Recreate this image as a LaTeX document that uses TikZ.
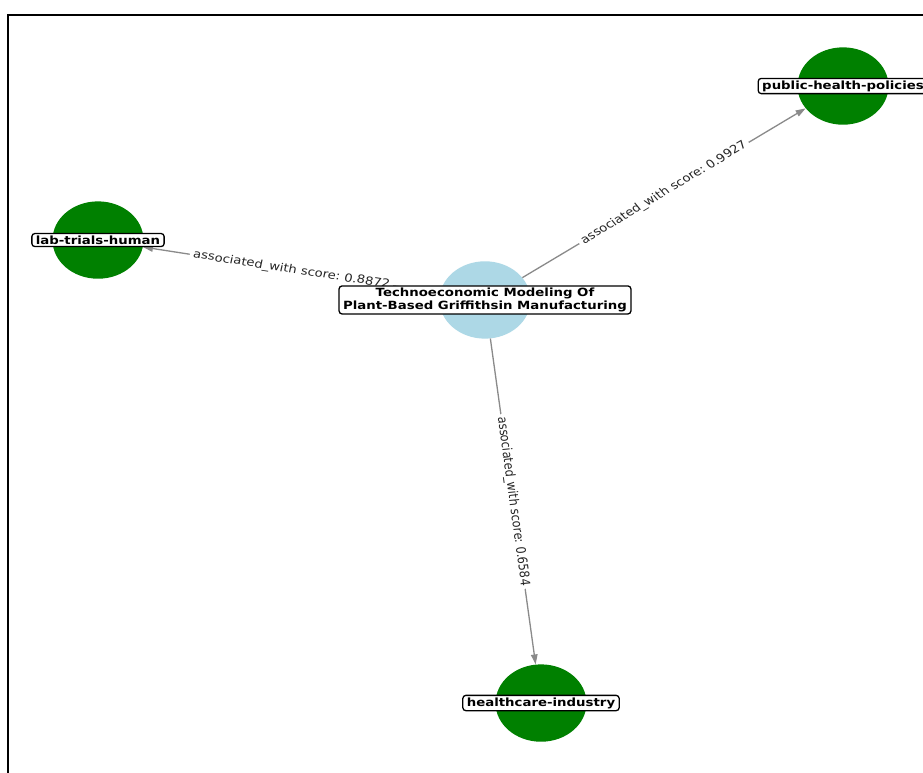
\documentclass[tikz,border=0pt]{standalone}
\usepackage{fontspec}
\setmainfont{DejaVu Sans}
\usetikzlibrary{shapes.geometric,arrows.meta,calc}
\definecolor{topicblue}{RGB}{173,216,230}
\definecolor{leafgreen}{RGB}{0,128,0}
\definecolor{edgegray}{RGB}{138,138,138}
\frenchspacing
\begin{document}
\begin{tikzpicture}[x=1pt,y=-1pt,
  hub/.style={circle, fill=topicblue, minimum size=91pt, inner sep=0pt},
  leaf/.style={circle, fill=leafgreen, minimum size=91pt, inner sep=0pt},
  tag/.style={draw=black, line width=1.3pt, fill=white, rounded corners=3pt,
    inner xsep=4pt, inner ysep=2.5pt, align=center,
    font=\bfseries\fontsize{13.3}{15}\selectfont},
  link/.style={draw=edgegray, line width=1.3pt, -{Triangle[length=10pt,width=6.5pt]}},
  score/.style={fill=white, inner sep=3.5pt, text=black!85,
    font=\fontsize{13.2}{15}\selectfont},
]
\useasboundingbox (0,0) rectangle (923,773);
\clip (0,0) rectangle (923,773);
\fill[white] (0,0) rectangle (923,773);
% outer frame
\draw[line width=2pt] (8,15) rectangle (960,800);

% graph drawn in round-circle space, squashed vertically
\begin{scope}[yscale=0.85, transform shape]
  \node[hub]  (hub)    at (485,352.9) {};
  \node[leaf] (policy) at (843,101.2) {};
  \node[leaf] (lab)    at (98,282.4)  {};
  \node[leaf] (health) at (541,827.1) {};

  \draw[link] (hub) -- (policy);
  \draw[link] (hub) -- (lab);
  \draw[link] (hub) -- (health);

  \node[score, rotate=35.1]  (s-policy) at ($(hub)!0.5!(policy)$) {associated\_with score: 0.9927};
  \node[score, rotate=-10.3] (s-lab)    at ($(hub)!0.5!(lab)$)    {associated\_with score: 0.8872};
  \node[score, rotate=-83.3] (s-health) at ($(hub)!0.5!(health)$) {associated\_with score: 0.6584};

  \node[tag] (hub-tag)    at (hub)    {Technoeconomic Modeling Of\\Plant-Based Griffithsin Manufacturing};
  \node[tag] (policy-tag) at (policy) {public-health-policies};
  \node[tag] (lab-tag)    at (lab)    {lab-trials-human};
  \node[tag] (health-tag) at (health) {healthcare-industry};
\end{scope}
\end{tikzpicture}
\end{document}
